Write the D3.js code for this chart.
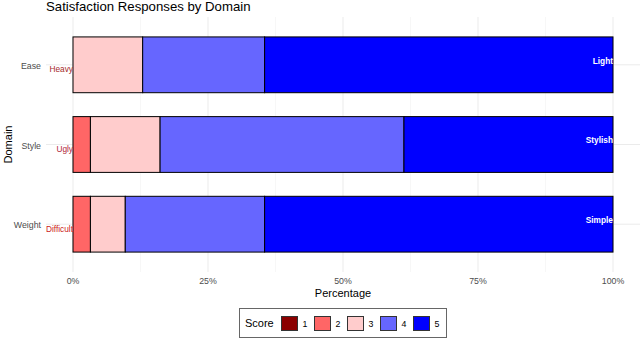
<!DOCTYPE html>
<html><head><meta charset="utf-8">
<script src="https://cdn.jsdelivr.net/npm/d3@7"></script>
<style>body{margin:0;background:#fff}svg{display:block;font-family:"Liberation Sans",Arial,sans-serif}</style>
</head><body><svg id="c" width="640" height="338"></svg>
<script>
const domains = ["Ease", "Style", "Weight"];
const scores = ["1", "2", "3", "4", "5"];
// response counts (n = 31 per domain)
const counts1 = [0, 0, 0];
const counts2 = [0, 1, 1];
const counts3 = [4, 4, 2];
const counts4 = [7, 14, 8];
const counts5 = [20, 12, 20];
const lowLabels = ["Heavy", "Ugly", "Difficult"];
const highLabels = ["Light", "Stylish", "Simple"];
const lowColors = ["#a52a2a", "#b0283a", "#cc2222"];
const scoreColors = ["#8B0000", "#FF6666", "#FFCCCC", "#6666FF", "#0000FF"];
const xTicks = [0, 0.25, 0.5, 0.75, 1];
const xMinor = [0.125, 0.375, 0.625, 0.875];

const svg = d3.select("#c");
const P = {l: 46, r: 640, t: 17, b: 272};
const x = d3.scaleLinear().domain([-0.05, 1.05]).range([P.l, P.r]);
const yUnit = d3.scaleLinear().domain([0.4, 3.6]).range([P.t, P.b]);
const y = d => yUnit(domains.indexOf(d) + 1);
const bw = yUnit(1.7) - yUnit(1);

const allCounts = [counts1, counts2, counts3, counts4, counts5];
const rows = domains.map((d, i) => {
  const vals = allCounts.map(c => c[i]);
  const tot = d3.sum(vals);
  let acc = 0;
  return vals.map((v, j) => { const s = {domain: d, score: scores[j], x0: acc / tot, x1: (acc + v) / tot}; acc += v; return s; });
});

const grid = svg.append("g");
xMinor.forEach(t => grid.append("line").attr("x1", x(t)).attr("x2", x(t)).attr("y1", P.t).attr("y2", P.b).attr("stroke", "#f2f2f2").attr("stroke-width", 0.6));
xTicks.forEach(t => grid.append("line").attr("x1", x(t)).attr("x2", x(t)).attr("y1", P.t).attr("y2", P.b).attr("stroke", "#ebebeb").attr("stroke-width", 1));
domains.forEach(d => grid.append("line").attr("x1", P.l).attr("x2", P.r).attr("y1", y(d)).attr("y2", y(d)).attr("stroke", "#ebebeb").attr("stroke-width", 1));

const bars = svg.append("g");
rows.flat().filter(s => s.x1 > s.x0).forEach(s => {
  bars.append("rect").attr("x", x(s.x0)).attr("width", x(s.x1) - x(s.x0))
    .attr("y", y(s.domain) - bw / 2).attr("height", bw)
    .attr("fill", scoreColors[scores.indexOf(s.score)]).attr("stroke", "#000").attr("stroke-width", 1);
});

domains.forEach((d, i) => {
  svg.append("text").attr("x", x(0)).attr("y", y(d) + 4.5).attr("dy", "0.35em").attr("text-anchor", "end")
    .attr("font-size", 8.3).attr("fill", lowColors[i]).text(lowLabels[i]);
  svg.append("text").attr("x", x(1)).attr("y", y(d) - 4).attr("dy", "0.35em").attr("text-anchor", "end")
    .attr("font-size", 8.3).attr("font-weight", "bold").attr("fill", "#fff").text(highLabels[i]);
  svg.append("text").attr("x", 41).attr("y", y(d) + 1).attr("dy", "0.35em").attr("text-anchor", "end")
    .attr("font-size", 8.8).attr("fill", "#4d4d4d").text(d);
});

xTicks.forEach(t => svg.append("text").attr("x", x(t)).attr("y", 281).attr("dy", "0.35em").attr("text-anchor", "middle")
  .attr("font-size", 8.8).attr("fill", "#4d4d4d").text(d3.format(".0%")(t)));

svg.append("text").attr("x", (P.l + P.r) / 2).attr("y", 293).attr("dy", "0.35em").attr("text-anchor", "middle")
  .attr("font-size", 11).attr("fill", "#000").text("Percentage");
svg.append("text").attr("transform", `translate(8,${(P.t + P.b) / 2}) rotate(-90)`).attr("dy", "0.35em").attr("text-anchor", "middle")
  .attr("font-size", 11).attr("fill", "#000").text("Domain");
svg.append("text").attr("x", 46).attr("y", 10.5).attr("font-size", 13.2).attr("fill", "#000").text("Satisfaction Responses by Domain");

const lg = svg.append("g");
lg.append("rect").attr("x", 239.5).attr("y", 308.5).attr("width", 207).attr("height", 29).attr("fill", "#fff").attr("stroke", "#666").attr("stroke-width", 1);
lg.append("text").attr("x", 245).attr("y", 323).attr("dy", "0.35em").attr("font-size", 11).attr("fill", "#000").text("Score");
scores.forEach((s, i) => {
  const kx = 281 + i * 33;
  lg.append("rect").attr("x", kx + 0.5).attr("y", 316.5).attr("width", 16).attr("height", 14).attr("fill", scoreColors[i]).attr("stroke", "#333").attr("stroke-width", 1);
  lg.append("text").attr("x", kx + 24).attr("y", 323.5).attr("dy", "0.35em").attr("text-anchor", "middle").attr("font-size", 8.8).attr("fill", "#000").text(s);
});
</script></body></html>
